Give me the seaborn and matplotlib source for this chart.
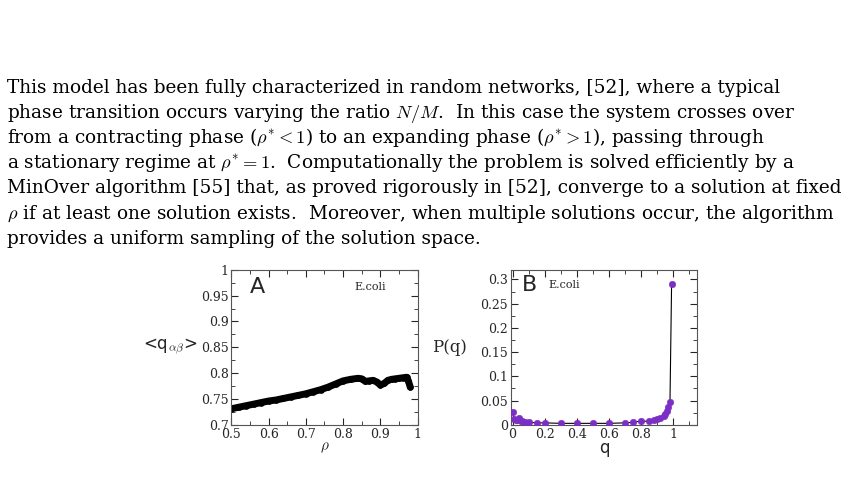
import matplotlib
matplotlib.use("Agg")
import matplotlib.pyplot as plt
import seaborn as sns
from matplotlib.ticker import MultipleLocator, FuncFormatter

sns.set_style("ticks")
plt.rcParams['font.family'] = ['DejaVu Serif']
plt.rcParams['mathtext.fontset'] = 'cm'

text_lines = [
    r"This model has been fully characterized in random networks, [52], where a typical",
    r"phase transition occurs varying the ratio $N/M$.  In this case the system crosses over",
    r"from a contracting phase ($\rho^{*} < 1$) to an expanding phase ($\rho^{*} > 1$), passing through",
    r"a stationary regime at $\rho^{*} = 1$.  Computationally the problem is solved efficiently by a",
    r"MinOver algorithm [55] that, as proved rigorously in [52], converge to a solution at fixed",
    r"$\rho$ if at least one solution exists.  Moreover, when multiple solutions occur, the algorithm",
    r"provides a uniform sampling of the solution space.",
]

rho = [0.50, 0.52, 0.54, 0.56, 0.58, 0.60, 0.62, 0.64, 0.66, 0.68, 0.70, 0.72, 0.74, 0.76,
       0.78, 0.80, 0.82, 0.84, 0.85, 0.86, 0.87, 0.88, 0.89, 0.90, 0.91, 0.92, 0.93, 0.94,
       0.95, 0.96, 0.97, 0.975, 0.98]
qab = [0.731, 0.734, 0.737, 0.740, 0.743, 0.746, 0.748, 0.751, 0.754, 0.757, 0.760, 0.764,
       0.768, 0.773, 0.779, 0.785, 0.788, 0.790, 0.789, 0.784, 0.785, 0.786, 0.783, 0.777,
       0.780, 0.786, 0.788, 0.789, 0.790, 0.791, 0.792, 0.785, 0.773]

qv = [0.00, 0.01, 0.02, 0.03, 0.04, 0.05, 0.06, 0.08, 0.10, 0.15, 0.20, 0.30, 0.40, 0.50,
      0.60, 0.70, 0.75, 0.80, 0.85, 0.88, 0.90, 0.92, 0.94, 0.95, 0.96, 0.97, 0.98, 0.99]
pq = [0.027, 0.012, 0.010, 0.009, 0.014, 0.008, 0.007, 0.006, 0.005, 0.004, 0.004, 0.003,
      0.003, 0.003, 0.003, 0.004, 0.005, 0.008, 0.007, 0.009, 0.011, 0.014, 0.019, 0.023,
      0.028, 0.036, 0.048, 0.291]

fig = plt.figure(figsize=(8.63, 4.80), dpi=100)
y0 = 0.807
for i, t in enumerate(text_lines):
    fig.text(0.008, y0 - i * 0.0525, t, fontsize=13.3, ha='left', va='baseline', color='black')

axA = fig.add_axes([0.268, 0.115, 0.216, 0.323])
sns.lineplot(x=rho, y=qab, ax=axA, color='black', lw=5, marker='o', ms=4, mec='black')
axA.set_xlim(0.5, 1.0); axA.set_ylim(0.7, 1.0)
axA.xaxis.set_major_locator(MultipleLocator(0.1)); axA.xaxis.set_minor_locator(MultipleLocator(0.05))
axA.yaxis.set_major_locator(MultipleLocator(0.05)); axA.yaxis.set_minor_locator(MultipleLocator(0.025))
axA.set_xlabel(r'$\rho$', fontsize=11, labelpad=0)
axA.set_ylabel(r'<q$_{\alpha\beta}$>', fontsize=12, rotation=0, labelpad=22, va='center', family='DejaVu Sans')
axA.text(0.1, 0.85, 'A', transform=axA.transAxes, fontsize=16, family='DejaVu Sans')
axA.text(0.66, 0.87, 'E.coli', transform=axA.transAxes, fontsize=8)

axB = fig.add_axes([0.592, 0.115, 0.216, 0.323])
sns.lineplot(x=qv, y=pq, ax=axB, color='black', lw=0.8)
sns.scatterplot(x=qv, y=pq, ax=axB, color='#7b2fc4', s=22, edgecolor='#7b2fc4', zorder=3)
axB.set_xlim(-0.01, 1.15); axB.set_ylim(0, 0.32)
axB.xaxis.set_major_locator(MultipleLocator(0.2)); axB.xaxis.set_minor_locator(MultipleLocator(0.1))
axB.yaxis.set_major_locator(MultipleLocator(0.05)); axB.yaxis.set_minor_locator(MultipleLocator(0.025))
axB.set_xlabel('q', fontsize=12, labelpad=-1, family='DejaVu Sans')
axB.set_ylabel('P(q)', fontsize=12, rotation=0, labelpad=22, va='center')
axB.text(0.06, 0.86, 'B', transform=axB.transAxes, fontsize=16, family='DejaVu Sans')
axB.text(0.2, 0.88, 'E.coli', transform=axB.transAxes, fontsize=8)

fmt = lambda v, p: ('%g' % round(v, 3))
for ax in (axA, axB):
    ax.tick_params(which='both', direction='in', top=True, right=True, labelsize=9, pad=2)
    ax.tick_params(which='major', length=5)
    ax.tick_params(which='minor', length=3)
    for s in ax.spines.values():
        s.set_linewidth(0.8); s.set_color('#555555')
    ax.xaxis.set_major_formatter(FuncFormatter(fmt))
    ax.yaxis.set_major_formatter(FuncFormatter(fmt))

fig.savefig('out.png', dpi=100)
